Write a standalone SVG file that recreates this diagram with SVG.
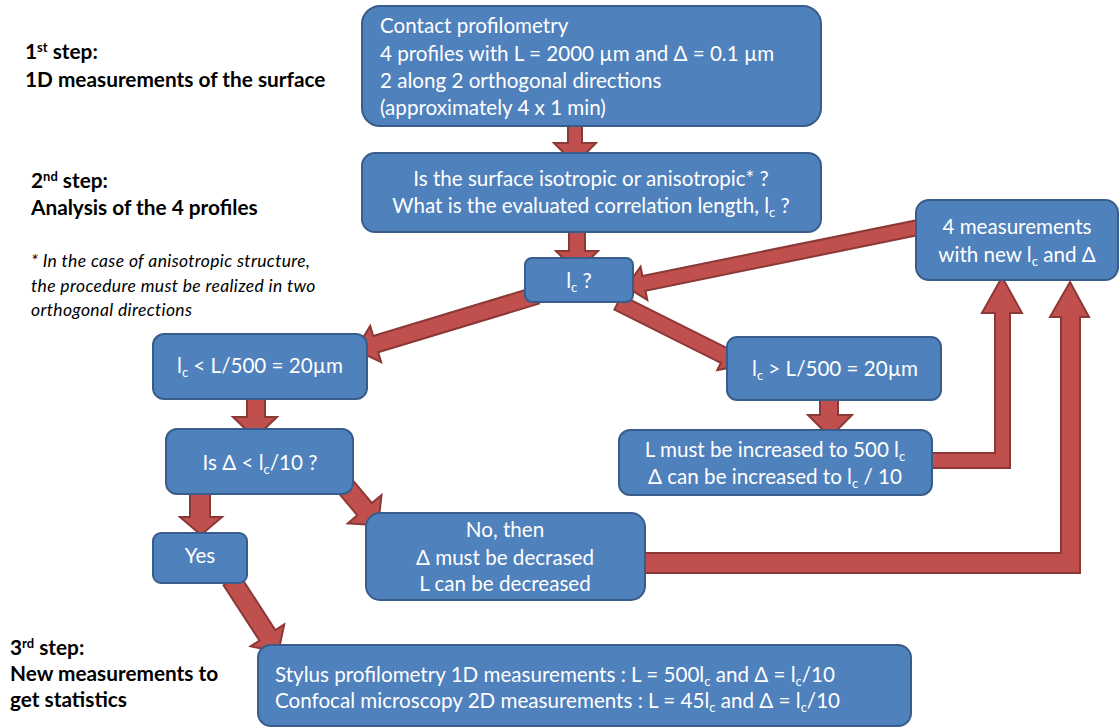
<svg xmlns="http://www.w3.org/2000/svg" width="1119" height="728" viewBox="0 0 1119 728">
<style>
.box{fill:#4F81BD;stroke:#385D8A;stroke-width:2}
.arr{fill:#C0504D;stroke:#8C3836;stroke-width:2;stroke-linejoin:miter}
.t{font-family:Lato,"Open Sans","Liberation Sans",sans-serif;font-size:20.6px;fill:#FFFFFF}
.m{text-anchor:middle}
.lab{font-family:Lato,"Open Sans","Liberation Sans",sans-serif;font-size:20.8px;font-weight:bold;fill:#000000}
.note{font-family:Lato,"Open Sans","Liberation Sans",sans-serif;font-size:17.5px;font-style:italic;letter-spacing:0.35px;fill:#000000}
.s{font-size:13px}
.sup{font-size:13px}
</style>
<rect width="1119" height="728" fill="#FFFFFF"/>

<g id="labels">
<text class="lab" x="25" y="59">1<tspan class="sup" dy="-7">st</tspan><tspan dy="7"> step:</tspan></text>
<text class="lab" x="25" y="87">1D measurements of the surface</text>
<text class="lab" x="31" y="188">2<tspan class="sup" dy="-7">nd</tspan><tspan dy="7"> step:</tspan></text>
<text class="lab" x="31" y="215">Analysis of the 4 profiles</text>
<text class="note" x="31" y="267">* In the case of anisotropic structure,</text>
<text class="note" x="31" y="292">the procedure must be realized in two</text>
<text class="note" x="31" y="316">orthogonal directions</text>
<text class="lab" x="10" y="655">3<tspan class="sup" dy="-7">rd</tspan><tspan dy="7"> step:</tspan></text>
<text class="lab" x="10" y="681">New measurements to</text>
<text class="lab" x="10" y="707">get statistics</text>
</g>

<g id="connectors">
<polygon class="arr" points="568,125 582,125 582,143 596,143 575,164 554,143 568,143"/>
<polygon class="arr" points="569,232 585,232 585,251 598,251 577,272 556,251 569,251"/>
<polygon class="arr" transform="translate(933,224.5) rotate(168.5)" points="0,-7.5 295,-7.5 295,-17 313,0 295,17 295,7.5 0,7.5"/>
<polygon class="arr" transform="translate(536.5,295.5) rotate(163.2)" points="0,-8.5 168,-8.5 168,-19 189,0 168,19 168,8.5 0,8.5"/>
<polygon class="arr" transform="translate(618,302.5) rotate(26.6)" points="0,-8 119,-8 119,-16 140,0 119,16 119,8 0,8"/>
<polygon class="arr" points="247,390 265,390 265,417 277,417 255,438 233,417 247,417"/>
<polygon class="arr" points="190,492 210,492 210,517 222,517 201,535 180,517 190,517"/>
<polygon class="arr" transform="translate(346,487) rotate(50)" points="0,-9.5 29,-9.5 29,-22 50,0 29,22 29,9.5 0,9.5"/>
<polygon class="arr" transform="translate(231.5,580) rotate(57)" points="0,-9.5 66,-9.5 66,-20 86,0 66,20 66,9.5 0,9.5"/>
<polygon class="arr" points="820,389 838,389 838,415 852,415 830,437 808,415 820,415"/>
<polygon class="arr" points="930,453 995,453 995,313 982,313 1002,277 1022,313 1010,313 1010,468 930,468"/>
<polygon class="arr" points="644,553 1061,553 1061,317 1050,317 1070,282 1089,317 1080,317 1080,573 644,573"/>
</g>

<g id="n1">
<rect class="box" x="362" y="6" width="459" height="120" rx="18"/>
<text class="t" x="380" y="33">Contact profilometry</text>
<text class="t" x="380" y="61">4 profiles with L = 2000 µm and Δ = 0.1 µm</text>
<text class="t" x="380" y="88">2 along 2 orthogonal directions</text>
<text class="t" x="380" y="115">(approximately 4 x 1 min)</text>
</g>
<g id="n2">
<rect class="box" x="362" y="153" width="459" height="79" rx="13"/>
<text class="t m" x="591" y="186">Is the surface isotropic or anisotropic* ?</text>
<text class="t m" x="591" y="213">What is the evaluated correlation length, l<tspan class="s" dy="4">c</tspan><tspan dy="-4"> ?</tspan></text>
</g>
<g id="n3">
<rect class="box" x="525" y="258" width="108" height="44" rx="7"/>
<text class="t m" x="579" y="288">l<tspan class="s" dy="4">c</tspan><tspan dy="-4"> ?</tspan></text>
</g>
<g id="n4">
<rect class="box" x="916" y="200" width="202" height="80" rx="13"/>
<text class="t m" x="1017" y="234">4 measurements</text>
<text class="t m" x="1017" y="262">with new l<tspan class="s" dy="4">c</tspan><tspan dy="-4"> and Δ</tspan></text>
</g>
<g id="n5">
<rect class="box" x="153" y="334" width="214" height="65" rx="11"/>
<text class="t m" x="260" y="373">l<tspan class="s" dy="4">c</tspan><tspan dy="-4"> &lt; L/500 = 20µm</tspan></text>
</g>
<g id="n6">
<rect class="box" x="727" y="337" width="214" height="63" rx="10"/>
<text class="t m" x="835" y="376">l<tspan class="s" dy="4">c</tspan><tspan dy="-4"> &gt; L/500 = 20µm</tspan></text>
</g>
<g id="n7">
<rect class="box" x="166" y="429" width="187" height="65" rx="11"/>
<text class="t m" x="260" y="470">Is Δ &lt; l<tspan class="s" dy="4">c</tspan><tspan dy="-4">/10 ?</tspan></text>
</g>
<g id="n8">
<rect class="box" x="619" y="430" width="313" height="65" rx="11"/>
<text class="t m" x="775" y="457">L must be increased to 500 l<tspan class="s" dy="4">c</tspan></text>
<text class="t m" x="775" y="484">Δ can be increased to l<tspan class="s" dy="4">c</tspan><tspan dy="-4"> / 10</tspan></text>
</g>
<g id="n9">
<rect class="box" x="153" y="533" width="94" height="50" rx="8"/>
<text class="t m" x="200" y="563">Yes</text>
</g>
<g id="n10">
<rect class="box" x="366" y="513" width="279" height="87" rx="14"/>
<text class="t m" x="505" y="537">No, then</text>
<text class="t m" x="505" y="565">Δ must be decrased</text>
<text class="t m" x="505" y="591">L can be decreased</text>
</g>
<g id="n11">
<rect class="box" x="258" y="645" width="653" height="81" rx="13"/>
<text class="t" x="275" y="682">Stylus profilometry 1D measurements : L = 500l<tspan class="s" dy="4">c</tspan><tspan dy="-4"> and Δ = l</tspan><tspan class="s" dy="4">c</tspan><tspan dy="-4">/10</tspan></text>
<text class="t" x="275" y="708">Confocal microscopy 2D measurements : L = 45l<tspan class="s" dy="4">c</tspan><tspan dy="-4"> and Δ = l</tspan><tspan class="s" dy="4">c</tspan><tspan dy="-4">/10</tspan></text>
</g>
</svg>
